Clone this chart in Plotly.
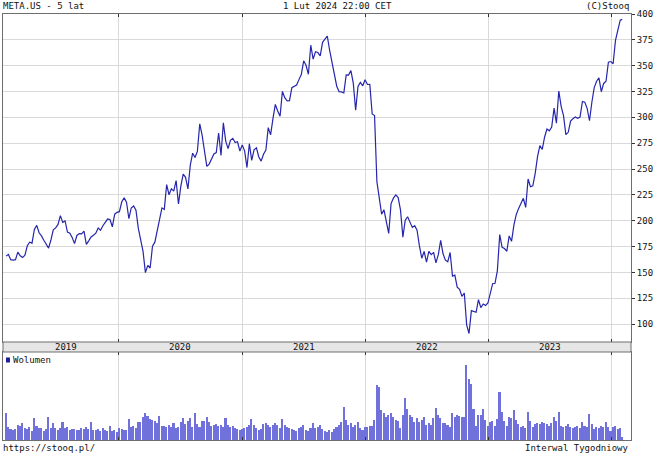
import plotly.graph_objects as go
import pandas as pd

# ---- data (weekly closes, META.US) ----
close_2019 = [165.7,167.3,162.3,161.9,162.3,169.6,166.0,164.3,166.7,175.7,
              179.1,178.3,191.5,195.5,188.3,185.3,181.1,177.5,173.4,181.3,
              191.1,193.0,196.4,204.9,198.4,199.8,189.0,187.9,183.7,177.8,
              185.7,187.5,187.2,189.9,177.1,180.5,184.2,185.9,187.9,193.0,
              190.8,195.1,198.8,201.6,201.1,194.1,206.3,208.1]
close_2020 = [208.7,218.3,222.1,217.9,201.9,212.3,214.2,210.2,192.5,181.1,
              170.3,149.7,156.8,154.2,175.2,179.2,190.1,202.3,212.4,210.9,
              234.9,225.1,230.8,228.6,238.8,216.1,233.4,245.1,242.0,230.7,
              253.7,265.3,261.2,267.0,293.7,282.7,266.6,252.5,254.8,259.9,
              264.5,265.9,284.8,263.1,294.7,277.0,269.7,277.8,279.7,275.6,
              276.4,267.4]
close_2021 = [273.2,267.6,251.4,274.5,258.3,268.6,270.5,261.6,257.6,264.3,
              268.4,290.1,283.0,298.7,312.5,306.2,301.1,325.1,319.1,315.9,
              316.2,328.7,330.4,331.3,336.5,341.4,354.7,350.4,341.7,369.8,
              356.3,363.5,362.7,359.4,372.6,376.3,378.7,364.7,353.0,343.0,
              330.1,324.8,324.6,323.6,341.1,340.9,345.3,333.1,306.8,329.8,
              333.8,330.5,336.4]
close_2022 = [331.8,331.9,303.2,301.7,237.8,219.6,206.2,210.5,200.1,187.6,
              216.5,221.8,224.9,222.3,210.2,184.1,200.5,203.8,198.6,193.5,
              195.1,190.8,175.6,163.7,170.2,160.0,170.3,167.1,169.3,159.1,
              167.1,180.9,168.0,161.8,160.3,169.2,146.3,147.3,135.7,133.5,
              126.8,130.0,99.2,90.8,113.0,112.1,111.4,123.5,115.9,119.4,
              118.0,120.3]
close_2023 = [130.0,139.0,139.4,151.7,186.5,174.2,173.0,170.4,185.3,180.0,
              195.6,206.0,211.9,216.1,221.6,212.9,240.3,232.8,233.8,245.6,
              262.0,272.6,268.9,281.0,288.7,287.0,290.5,308.9,294.3,325.5,
              310.7,301.6,283.3,285.5,296.4,298.7,300.3,299.1,300.2,315.4,
              314.7,308.7,296.7,314.6,328.8,335.0,338.2,324.8,332.8,334.9,
              353.4,354.0]
close_2024 = [351.9,374.5,383.5,394.1,394.8]

vol_2019 = [27,13,11,10,11,15,14,17,12,11,13,9,22,14,12,12,9,11,23,12,
            17,12,10,12,18,12,13,10,11,11,10,10,12,11,13,11,18,10,10,11,
            9,12,10,9,14,9,10,8]
vol_2020 = [12,11,10,10,21,13,14,12,18,18,23,27,24,21,20,19,17,24,14,14,
            13,15,13,17,12,13,18,22,16,19,22,13,27,16,13,19,19,23,18,14,
            15,16,14,15,13,22,15,13,14,12,11,10]
vol_2021 = [11,12,13,15,21,15,12,10,11,16,17,15,13,15,17,15,12,21,15,13,
            12,11,10,9,12,13,15,10,9,12,17,12,13,15,11,9,8,10,8,11,
            13,15,18,33,20,15,17,13,15,18,12,10,13]
vol_2022 = [13,14,14,20,55,53,30,27,23,25,27,23,20,19,12,25,42,31,25,23,
            18,22,18,20,23,15,17,15,22,32,25,22,17,17,15,13,27,23,25,24,
            23,23,75,61,56,31,14,25,25,31,20,14]
vol_2023 = [18,19,14,21,48,28,19,14,23,22,30,20,16,13,14,12,28,19,13,16,
            17,16,18,17,16,14,17,23,19,28,14,13,14,16,13,12,13,14,12,18,
            14,13,26,16,11,13,12,14,13,18,13,9]
vol_2024 = [13,14,11,12,3]

price = close_2019 + close_2020 + close_2021 + close_2022 + close_2023 + close_2024
volume = vol_2019 + vol_2020 + vol_2021 + vol_2022 + vol_2023 + vol_2024
dates = list(pd.date_range("2019-02-01", periods=len(price), freq="7D"))
dates[-1] = pd.Timestamp("2024-02-01")

year_bounds = ["2020-01-01", "2021-01-01", "2022-01-01", "2023-01-01", "2024-01-01"]
year_labels = ["2019", "2020", "2021", "2022", "2023"]
year_label_pos = ["2019-07-28", "2020-07-01", "2021-07-02", "2022-07-02", "2023-07-02"]
price_ticks = [100, 125, 150, 175, 200, 225, 250, 275, 300, 325, 350, 375, 400]

FONT = "DejaVu Sans Mono"
GRID = "#d9d9d9"
FRAME = "#6e6e6e"

# plot area pixels: x 2..633, y 14..440
top_px, bot_px = 14, 440
H = bot_px - top_px
def py(p):
    return (bot_px - p) / H
price_dom = [py(342), 1.0]
vol_dom = [0.0, py(352)]

fig = go.Figure()
fig.add_trace(go.Scatter(x=dates, y=price, mode="lines",
                         line=dict(color="#2626ad", width=1.2),
                         xaxis="x", yaxis="y", showlegend=False))
fig.add_trace(go.Bar(x=dates, y=volume, marker=dict(color="#7171db", line=dict(width=0)),
                     width=4.6 * 86400000, xaxis="x2", yaxis="y2", showlegend=False))

xcommon = dict(range=["2019-01-23", "2024-02-27"], type="date", tickvals=year_bounds,
               showticklabels=False, showgrid=True, gridcolor=GRID, gridwidth=1,
               ticks="inside", ticklen=3, tickcolor="#333", showline=True,
               linecolor=FRAME, linewidth=1, mirror="ticks", zeroline=False)

fig.update_layout(
    width=655, height=455,
    margin=dict(l=2, r=22, t=top_px, b=455 - bot_px),
    paper_bgcolor="white", plot_bgcolor="white",
    bargap=0,
    xaxis=dict(domain=[0, 1], anchor="y", **xcommon),
    xaxis2=dict(domain=[0, 1], anchor="y2", matches="x", **xcommon),
    yaxis=dict(domain=price_dom, anchor="x", side="right", range=[82.6, 400],
               tickvals=price_ticks, ticks="outside", ticklen=3, tickcolor="#333",
               showgrid=True, gridcolor=GRID, showline=True, linecolor=FRAME,
               mirror=True, zeroline=False,
               tickfont=dict(family=FONT, size=9, color="#111")),
    yaxis2=dict(domain=vol_dom, anchor="x2", side="right", range=[0, 88],
                showticklabels=False, ticks="", showgrid=False, showline=True,
                linecolor=FRAME, mirror=True, zeroline=False),
    font=dict(family=FONT, size=9, color="#111"),
)

shapes = [
    dict(type="rect", xref="paper", yref="paper", x0=0, x1=1,
         y0=vol_dom[1], y1=price_dom[0], fillcolor="#e6e6e6",
         line=dict(color=FRAME, width=1), layer="above"),
    dict(type="rect", xref="paper", yref="paper",
         x0=(5 - 2) / 631, x1=(9 - 2) / 631, y0=py(362.5), y1=py(357.5),
         fillcolor="#1d1d9a", line=dict(width=0)),
]
fig.update_layout(shapes=shapes)

ann = []
band_y = (vol_dom[1] + price_dom[0]) / 2
for lab, pos in zip(year_labels, year_label_pos):
    ann.append(dict(x=pos, y=band_y, xref="x", yref="paper", text=lab, showarrow=False,
                    xanchor="center", yanchor="middle", font=dict(family=FONT, size=9, color="#111")))
def txt(text, xpx, ypx, anchor):
    return dict(x=(xpx - 2) / 631, y=py(ypx), xref="paper", yref="paper", text=text,
                showarrow=False, xanchor=anchor, yanchor="middle",
                font=dict(family=FONT, size=9, color="#111"))
ann += [
    txt("META.US - 5 lat", 0, 6, "left"),
    txt("1 Lut 2024 22:00 CET", 338, 6, "center"),
    txt("(C)Stooq", 633, 6, "right"),
    txt("Wolumen", 10, 360, "left"),
    txt("https://stooq.pl/", 0, 448, "left"),
    txt("Interwal Tygodniowy", 633, 448, "right"),
]
fig.update_layout(annotations=ann)

fig.write_html("out.html", config={"displayModeBar": False},
               post_script="document.body.style.margin='0px';document.body.style.overflow='hidden';")
